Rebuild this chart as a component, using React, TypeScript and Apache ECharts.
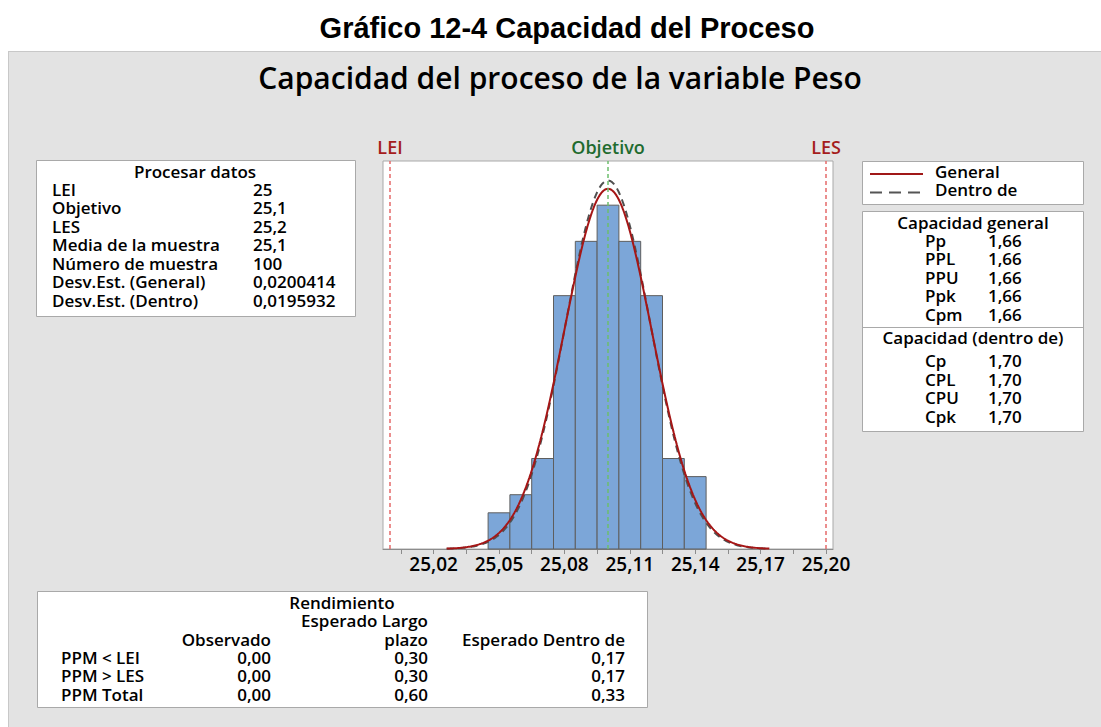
import React, { useEffect, useRef } from "react";
import * as echarts from "echarts";

// ---------- data ----------
const LEI = 25.0;
const OBJETIVO = 25.1;
const LES = 25.2;
const MEAN = 25.1;
const SD_GENERAL = 0.0200414;
const SD_DENTRO = 0.0195932;
const N = 100;

const binCenters = [25.05, 25.06, 25.07, 25.08, 25.09, 25.1, 25.11, 25.12, 25.13, 25.14];
const binCounts = [2, 3, 5, 14, 17, 19, 17, 14, 5, 4];
const BIN_WIDTH = 0.01;

const xTickValues = [25.005, 25.02, 25.035, 25.05, 25.065, 25.08, 25.095, 25.11, 25.125, 25.14, 25.155, 25.17, 25.185, 25.2];
const xLabelValues = [25.02, 25.05, 25.08, 25.11, 25.14, 25.17, 25.2];

const procesarLabels = ["LEI", "Objetivo", "LES", "Media de la muestra", "Número de muestra", "Desv.Est. (General)", "Desv.Est. (Dentro)"];
const procesarValues = ["25", "25,1", "25,2", "25,1", "100", "0,0200414", "0,0195932"];

const generalLabels = ["Pp", "PPL", "PPU", "Ppk", "Cpm"];
const generalValues = ["1,66", "1,66", "1,66", "1,66", "1,66"];
const dentroLabels = ["Cp", "CPL", "CPU", "Cpk"];
const dentroValues = ["1,70", "1,70", "1,70", "1,70"];

const rendRows = ["PPM < LEI", "PPM > LES", "PPM Total"];
const rendObservado = ["0,00", "0,00", "0,00"];
const rendLargo = ["0,30", "0,30", "0,60"];
const rendDentro = ["0,17", "0,17", "0,33"];

// fitted normal curves (defined by the sample mean and the two std devs shown in the table)
const CURVE_FROM = 25.026;
const CURVE_TO = 25.174;
function normalCurve(sd: number): number[][] {
  const pts: number[][] = [];
  const steps = 300;
  for (let i = 0; i <= steps; i++) {
    const x = CURVE_FROM + ((CURVE_TO - CURVE_FROM) * i) / steps;
    const z = (x - MEAN) / sd;
    const y = (N * BIN_WIDTH * Math.exp(-0.5 * z * z)) / (sd * Math.sqrt(2 * Math.PI));
    pts.push([x, y]);
  }
  return pts;
}

const FONT = "'Open Sans', 'Noto Sans', sans-serif";
const BODY = `600 17px ${FONT}`;

function txt(x: number, y: number, s: string, opt: any = {}) {
  return {
    type: "text",
    x,
    y,
    z: 10,
    style: {
      text: s,
      fill: opt.fill || "#000",
      font: opt.font || BODY,
      lineHeight: opt.lineHeight || 17,
      textAlign: opt.align || "left",
      textVerticalAlign: "middle",
    },
  };
}

function box(x: number, y: number, w: number, h: number) {
  return {
    type: "rect",
    z: 5,
    shape: { x: x + 0.5, y: y + 0.5, width: w, height: h },
    style: { fill: "#fff", stroke: "#a9a9a9", lineWidth: 1 },
  };
}

export default function App() {
  const ref = useRef<HTMLDivElement>(null);
  useEffect(() => {
    if (!ref.current) return;
    const chart = echarts.init(ref.current, null, { renderer: "svg" });

    const graphics: any[] = [];
    // titles
    graphics.push(txt(567, 28, "Gráfico 12-4 Capacidad del Proceso", { align: "center", lineHeight: 32, font: `bold 29px 'Liberation Sans', Arial, sans-serif` }));
    graphics.push(txt(560, 77, "Capacidad del proceso de la variable Peso", { align: "center", lineHeight: 34, font: `600 30px ${FONT}` }));

    // Procesar datos box
    graphics.push(box(36, 160, 319, 156));
    graphics.push(txt(195, 171, "Procesar datos", { align: "center" }));
    procesarLabels.forEach((l, i) => {
      const y = 189 + i * 18.5;
      graphics.push(txt(52, y, l));
      graphics.push(txt(253, y, procesarValues[i]));
    });

    // legend box
    graphics.push(box(862, 161, 221, 43));
    graphics.push({ type: "line", z: 10, shape: { x1: 870, y1: 174, x2: 923, y2: 174 }, style: { stroke: "#a01818", lineWidth: 2 } });
    graphics.push({ type: "line", z: 10, shape: { x1: 870, y1: 192.5, x2: 923, y2: 192.5 }, style: { stroke: "#555", lineWidth: 2, lineDash: [12, 7] } });
    graphics.push(txt(935, 171, "General"));
    graphics.push(txt(935, 189, "Dentro de"));

    // capacity box
    graphics.push(box(862, 211, 221, 220));
    graphics.push({ type: "line", z: 10, shape: { x1: 862, y1: 327.5, x2: 1083, y2: 327.5 }, style: { stroke: "#a9a9a9", lineWidth: 1 } });
    graphics.push(txt(973, 222, "Capacidad general", { align: "center" }));
    generalLabels.forEach((l, i) => {
      const y = 240 + i * 18.5;
      graphics.push(txt(925, y, l));
      graphics.push(txt(988, y, generalValues[i]));
    });
    graphics.push(txt(973, 337.5, "Capacidad (dentro de)", { align: "center" }));
    dentroLabels.forEach((l, i) => {
      const y = 360.5 + i * 18.5;
      graphics.push(txt(925, y, l));
      graphics.push(txt(988, y, dentroValues[i]));
    });

    // Rendimiento box
    graphics.push(box(37, 591, 610, 116));
    graphics.push(txt(342, 602, "Rendimiento", { align: "center" }));
    graphics.push(txt(428, 620.5, "Esperado Largo", { align: "right" }));
    graphics.push(txt(271, 639.5, "Observado", { align: "right" }));
    graphics.push(txt(428, 639.5, "plazo", { align: "right" }));
    graphics.push(txt(625, 639.5, "Esperado Dentro de", { align: "right" }));
    rendRows.forEach((l, i) => {
      const y = 657.5 + i * 18.3;
      graphics.push(txt(61, y, l));
      graphics.push(txt(271, y, rendObservado[i], { align: "right" }));
      graphics.push(txt(428, y, rendLargo[i], { align: "right" }));
      graphics.push(txt(625, y, rendDentro[i], { align: "right" }));
    });

    const refLine = (v: number, name: string, color: string, labelColor: string) => ({
      xAxis: v,
      lineStyle: { color, type: [4, 3], width: 1.5 },
      label: {
        show: true,
        formatter: name,
        position: "end",
        color: labelColor,
        fontFamily: FONT,
        fontWeight: 600,
        fontSize: 18,
        distance: 5,
      },
    });

    chart.setOption({
      animation: false,
      backgroundColor: "transparent",
      graphic: { elements: graphics },
      grid: {
        left: 383,
        top: 161,
        width: 450,
        height: 388,
        show: true,
        backgroundColor: "#fff",
        borderColor: "#a9a9a9",
        borderWidth: 1,
      },
      xAxis: {
        type: "value",
        min: LEI - 7 / 2180,
        max: LES + 7 / 2180,
        splitLine: { show: false },
        axisLine: { show: true, lineStyle: { color: "#8c8c8c", width: 1 } },
        axisTick: { show: true, length: 5, customValues: xTickValues, lineStyle: { color: "#8c8c8c" } },
        axisLabel: {
          customValues: xLabelValues,
          formatter: (v: number) => v.toFixed(2).replace(".", ","),
          color: "#000",
          fontFamily: FONT,
          fontWeight: 600,
          fontSize: 19,
          margin: 5,
        },
      },
      yAxis: {
        type: "value",
        min: 0,
        max: 21.44,
        show: false,
        splitLine: { show: false },
      },
      series: [
        {
          type: "line",
          data: [],
          z: 1,
          silent: true,
          markLine: {
            silent: true,
            symbol: "none",
            data: [
              refLine(LEI, "LEI", "#e56a6a", "#a51d1d"),
              refLine(OBJETIVO, "Objetivo", "#6cbf6c", "#1f6b2f"),
              refLine(LES, "LES", "#e56a6a", "#a51d1d"),
            ],
          },
        },
        {
          type: "custom",
          z: 2,
          data: binCenters.map((c, i) => [c, binCounts[i]]),
          renderItem: (params: any, api: any) => {
            const c = api.value(0);
            const h = api.value(1);
            const p0 = api.coord([c - BIN_WIDTH / 2, h]);
            const p1 = api.coord([c + BIN_WIDTH / 2, 0]);
            return {
              type: "rect",
              shape: { x: p0[0], y: p0[1], width: p1[0] - p0[0], height: p1[1] - p0[1] },
              style: { fill: "#7ca6d8", stroke: "#5e5e5e", lineWidth: 1 },
            };
          },
        },
        {
          name: "Dentro de",
          type: "line",
          z: 3,
          showSymbol: false,
          data: normalCurve(SD_DENTRO),
          lineStyle: { color: "#505050", width: 2, type: [7, 5] },
        },
        {
          name: "General",
          type: "line",
          z: 4,
          showSymbol: false,
          data: normalCurve(SD_GENERAL),
          lineStyle: { color: "#a51616", width: 2 },
        },
      ],
    });
    return () => chart.dispose();
  }, []);

  return (
    <div style={{ position: "fixed", left: 0, top: 0, width: 1101, height: 727, background: "#fff" }}>
      <div
        style={{
          position: "absolute",
          left: 8,
          top: 51,
          width: 1100,
          height: 680,
          background: "#e3e3e3",
          border: "1px solid #c8c8c8",
        }}
      />
      <div ref={ref} style={{ position: "absolute", left: 0, top: 0, width: 1101, height: 727 }} />
    </div>
  );
}
